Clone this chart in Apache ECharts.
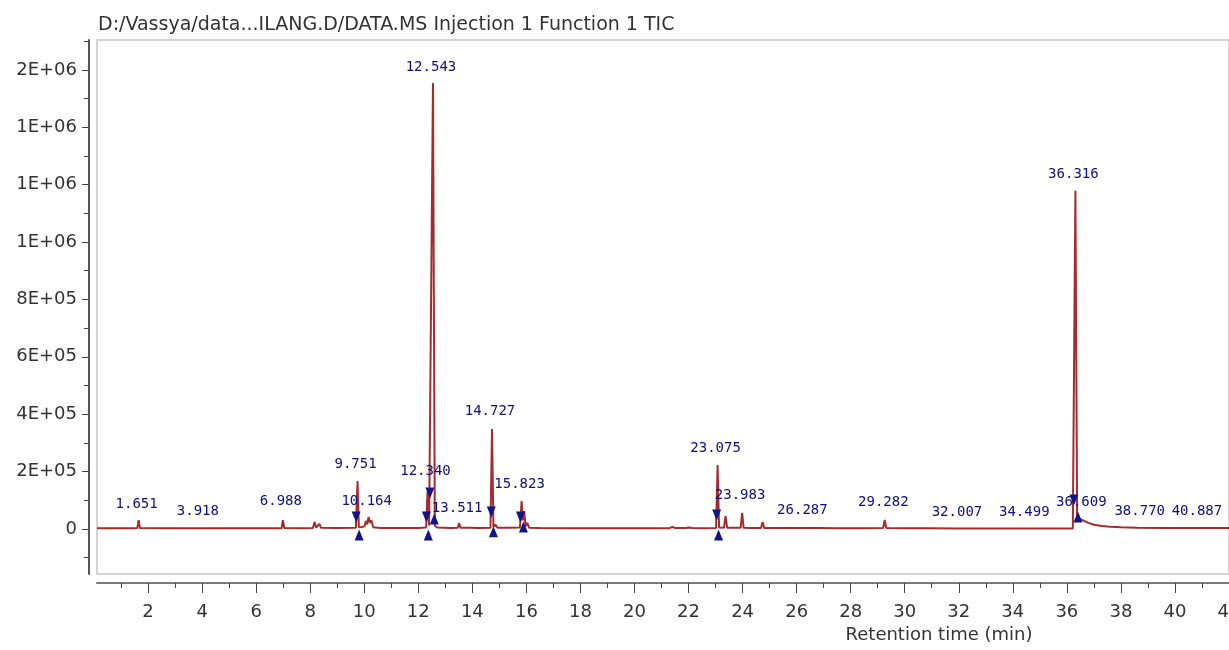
<!DOCTYPE html>
<html>
<head>
<meta charset="utf-8">
<script src="https://cdn.jsdelivr.net/npm/echarts@6/dist/echarts.min.js"></script>
<style>html,body{margin:0;padding:0;background:#fff}#c{width:1229px;height:650px}</style>
</head>
<body>
<div id="c"></div>
<script>
// ---- data ----
const titleText = 'D:/Vassya/data...ILANG.D/DATA.MS Injection 1 Function 1 TIC';
const xAxisTitle = 'Retention time (min)';

// retention time (min) and TIC intensity of the trace
const rt  = [0.11, 0.8, 1.5, 1.60, 1.651, 1.70, 2.5, 3.5, 4.5, 5.5, 6.5, 6.94, 6.988, 7.04, 7.6,
  8.10, 8.16, 8.22, 8.29, 8.34, 8.40, 9.0, 9.69, 9.751, 9.80, 9.90, 10.01, 10.06, 10.11, 10.16,
  10.21, 10.26, 10.33, 10.6, 11.5, 12.0, 12.29, 12.340, 12.40, 12.47, 12.543, 12.61, 12.70, 13.2,
  13.46, 13.511, 13.56, 13.85, 13.89, 13.93, 14.22, 14.27, 14.32, 14.67, 14.727, 14.78, 14.85,
  14.93, 15.3, 15.76, 15.823, 15.87, 15.92, 15.97, 16.03, 16.10, 16.5, 17.5, 18.5, 19.5, 20.5,
  21.3, 21.4, 21.52, 21.9, 22.0, 22.15, 22.6, 23.02, 23.075, 23.13, 23.31, 23.37, 23.43, 23.6,
  23.93, 23.983, 24.04, 24.3, 24.68, 24.74, 24.80, 25.08, 25.14, 25.20, 25.8, 26.2, 26.26, 26.35,
  26.8, 27.5, 28.5, 29.2, 29.26, 29.32, 30.0, 31.0, 32.0, 33.0, 34.0, 35.0, 35.8, 36.22, 36.316,
  36.38, 36.45, 36.6, 36.8, 37.0, 37.3, 37.6, 38.0, 38.6, 39.5, 40.5, 42.0];
const tic = [2500, 2800, 2600, 3000, 31000, 3000, 2400, 2200, 2300, 2200, 2500, 2800, 31000, 3000, 2600,
  3000, 24000, 5000, 4500, 18000, 4000, 3000, 4000, 167000, 6000, 7000, 9000, 28000, 16000, 42000,
  22000, 30000, 6000, 3500, 3000, 3200, 5000, 130000, 12000, 14000, 1554000, 12000, 5000, 3500,
  4000, 21000, 4000, 4000, 10000, 4000, 3500, 8000, 3500, 4500, 348000, 7000, 15000,
  4500, 4000, 5000, 97000, 30000, 62000, 9000, 21000, 4500, 3200, 2800, 2600, 2500, 2500,
  2800, 7000, 3000, 3000, 5000, 3000, 2800, 3500, 223000, 5000, 4500, 45000, 4500, 4000,
  4000, 56000, 4000, 3500, 3500, 24000, 3500, 3500, 10000, 3200, 3000, 3000, 5000, 3000,
  3500, 2800, 2700, 3000, 31000, 3000, 2600, 2300, 2000, 1800, 1600, 1500, 1500, 1600, 1179000,
  45000, 36000, 30000, 21000, 14500, 10000, 7500, 5500, 4200, 3500, 3200, 3000];

// peak annotations: retention-time text and the height at which each label sits
const peakNames = ['1.651', '3.918', '6.988', '9.751', '10.164', '12.340', '12.543', '13.511', '14.727',
  '15.823', '23.075', '23.983', '26.287', '29.282', '32.007', '34.499', '36.316', '36.609', '38.770', '40.887'];
const peakLabelLevel = [87000, 63000, 97000, 226000, 97000, 202000, 1610000, 73000, 411000,
  157000, 282000, 118000, 66000, 91000, 59000, 59000, 1237000, 94000, 63000, 63000];

// integration markers (peak start ▼ / peak end ▲)
const startMarkX = [9.70, 12.30, 12.43, 14.70, 15.78, 23.04, 36.26];
const startMarkY = [42000, 42000, 125000, 59000, 42000, 49000, 101000];
const endMarkX = [9.81, 12.37, 12.59, 14.78, 15.89, 23.11, 36.41];
const endMarkY = [-21000, -21000, 35000, -10000, 7000, -21000, 42000];

// axis ticks
const xMajorTicks = [2, 4, 6, 8, 10, 12, 14, 16, 18, 20, 22, 24, 26, 28, 30, 32, 34, 36, 38, 40, 42];
const xMinorTicks = [1, 3, 5, 7, 9, 11, 13, 15, 17, 19, 21, 23, 25, 27, 29, 31, 33, 35, 37, 39, 41];
const yMajorTicks = [0, 200000, 400000, 600000, 800000, 1000000, 1200000, 1400000, 1600000];
const yTickLabels = ['0', '2E+05', '4E+05', '6E+05', '8E+05', '1E+06', '1E+06', '1E+06', '2E+06'];
const yMinorTicks = [-100000, 100000, 300000, 500000, 700000, 900000, 1100000, 1300000, 1500000, 1700000];

// ---- chart ----
const FONT = 'DejaVu Sans';
const X_MIN = 0.11, X_MAX = 42.0, Y_MIN = -157000, Y_MAX = 1704000;
const trace = rt.map((t, i) => [t, tic[i]]);
const labelPts = peakNames.map((n, i) => [Number(n), peakLabelLevel[i]]);
const startPts = startMarkX.map((x, i) => [x, startMarkY[i]]);
const endPts = endMarkX.map((x, i) => [x, endMarkY[i]]);

const chart = echarts.init(document.getElementById('c'), null, {renderer: 'canvas'});
chart.setOption({
  animation: false,
  backgroundColor: '#ffffff',
  title: {
    text: titleText, left: 93, top: 11,
    textStyle: {fontFamily: FONT, fontSize: 19, fontWeight: 'normal', color: '#333333'}
  },
  grid: {left: 97, right: 0, top: 40, bottom: 76, containLabel: false, outerBoundsMode: 'none',
    show: true, borderColor: '#d3d3d3', borderWidth: 2, backgroundColor: '#ffffff'},
  xAxis: [{
    type: 'value', min: X_MIN, max: X_MAX, position: 'bottom', offset: 9,
    axisLine: {show: true, onZero: false, lineStyle: {color: '#7a7a7a', width: 2}},
    axisTick: {show: true, customValues: xMajorTicks, length: 10, lineStyle: {color: '#444444', width: 1}},
    axisLabel: {customValues: xMajorTicks, margin: 20, fontFamily: FONT, fontSize: 18, color: '#333333',
      formatter: v => String(v)},
    splitLine: {show: false},
    name: xAxisTitle, nameLocation: 'middle', nameGap: 43,
    nameTextStyle: {fontFamily: FONT, fontSize: 18, color: '#333333', padding: [0, 0, 0, 552]}
  }, {
    type: 'value', min: X_MIN, max: X_MAX, position: 'bottom', offset: 9,
    axisLine: {show: false, onZero: false},
    axisTick: {show: true, customValues: xMinorTicks, length: 5, lineStyle: {color: '#444444', width: 1}},
    axisLabel: {show: false},
    splitLine: {show: false}
  }],
  yAxis: [{
    type: 'value', min: Y_MIN, max: Y_MAX, position: 'left', offset: 8,
    axisLine: {show: true, onZero: false, lineStyle: {color: '#555555', width: 2}},
    axisTick: {show: true, customValues: yMajorTicks, length: 7, lineStyle: {color: '#444444', width: 1}},
    axisLabel: {customValues: yMajorTicks, margin: 12, fontFamily: FONT, fontSize: 18, color: '#333333',
      formatter: v => { const k = yMajorTicks.indexOf(v); return k >= 0 ? yTickLabels[k] : ''; }},
    splitLine: {show: false}
  }, {
    type: 'value', min: Y_MIN, max: Y_MAX, position: 'left', offset: 8,
    axisLine: {show: false, onZero: false},
    axisTick: {show: true, customValues: yMinorTicks, length: 5, lineStyle: {color: '#444444', width: 1}},
    axisLabel: {show: false},
    splitLine: {show: false}
  }],
  series: [{
    type: 'line', name: 'TIC', data: trace, xAxisIndex: 0, yAxisIndex: 0,
    showSymbol: false, symbol: 'none', sampling: null,
    lineStyle: {color: '#a52c2c', width: 2}, z: 2
  }, {
    type: 'scatter', name: 'labels', data: labelPts, xAxisIndex: 0, yAxisIndex: 0,
    symbol: 'circle', symbolSize: 1, itemStyle: {color: 'rgba(0,0,0,0)', opacity: 1}, z: 3,
    label: {show: true, position: 'inside', offset: [-2, 0], fontFamily: 'DejaVu Sans Mono', fontSize: 14,
      color: '#0e0e82', formatter: p => peakNames[p.dataIndex]}
  }, {
    type: 'scatter', name: 'start', data: startPts, xAxisIndex: 0, yAxisIndex: 0,
    symbol: 'triangle', symbolRotate: 180, symbolSize: [9, 11], itemStyle: {color: '#13138a', opacity: 1}, z: 4
  }, {
    type: 'scatter', name: 'end', data: endPts, xAxisIndex: 0, yAxisIndex: 0,
    symbol: 'triangle', symbolSize: [9, 11], itemStyle: {color: '#13138a', opacity: 1}, z: 4
  }]
});
</script>
</body>
</html>
